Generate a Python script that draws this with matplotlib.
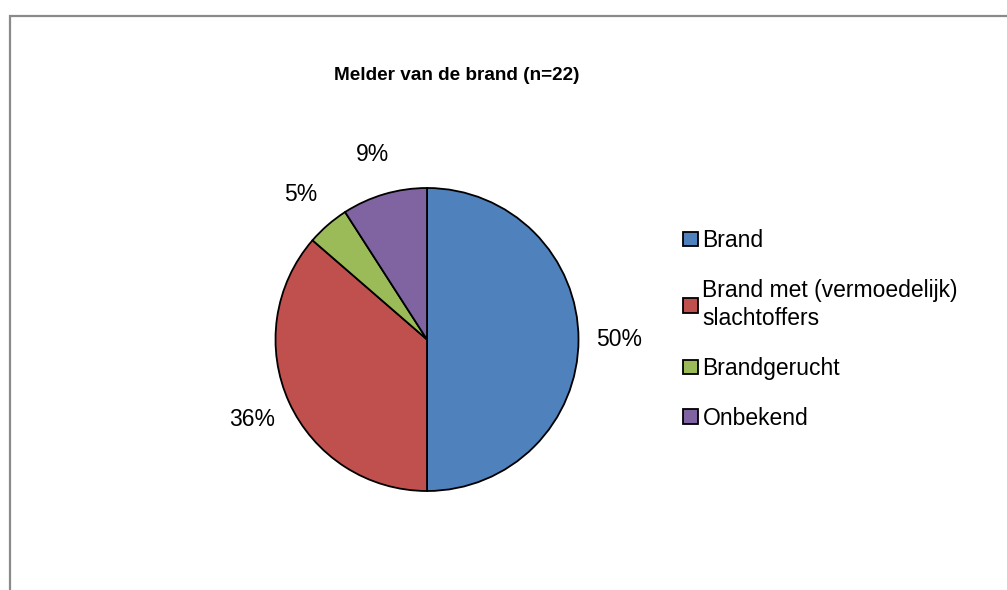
"""Taartdiagram: melder van de brand (n=22)."""

import matplotlib

matplotlib.use("Agg")
import matplotlib.pyplot as plt
from matplotlib.patches import Rectangle

plt.rcParams["font.family"] = ["Liberation Sans", "DejaVu Sans"]

TITLE = "Melder van de brand (n=22)"
CATEGORIES = [
    "Brand",
    "Brand met (vermoedelijk)\nslachtoffers",
    "Brandgerucht",
    "Onbekend",
]
COUNTS = [11, 8, 1, 2]
COLORS = ["#4F81BD", "#C0504D", "#9BBB59", "#8064A2"]

FIG_W_PX, FIG_H_PX = 1007, 590
DPI = 100

fig = plt.figure(figsize=(FIG_W_PX / DPI, FIG_H_PX / DPI), dpi=DPI)

# grijze kaderlijn (valt rechts en onder buiten beeld)
fig.patches.append(
    Rectangle(
        (9.5 / FIG_W_PX, -0.2),
        1.5,
        1.2 - 15.5 / FIG_H_PX,
        transform=fig.transFigure,
        fill=False,
        edgecolor="#8a8a8a",
        linewidth=1.6,
    )
)

# pie-as: middelpunt (427, 339.5) px, straal 151.5 px
radius_px = 151.5
ax = fig.add_axes(
    [
        (427 - radius_px) / FIG_W_PX,
        (FIG_H_PX - 339.5 - radius_px) / FIG_H_PX,
        2 * radius_px / FIG_W_PX,
        2 * radius_px / FIG_H_PX,
    ]
)
wedges, _, autotexts = ax.pie(
    COUNTS,
    colors=COLORS,
    startangle=90,
    counterclock=False,
    autopct="%.0f%%",
    pctdistance=1.27,
    radius=1.0,
    wedgeprops={"edgecolor": "black", "linewidth": 1.3},
    textprops={"fontsize": 16.5, "color": "black"},
)
ax.set_xlim(-1, 1)
ax.set_ylim(-1, 1)
ax.set_aspect("equal")
ax.axis("off")
for text in autotexts:
    text.set_clip_on(False)

fig.text(
    457 / FIG_W_PX,
    1 - 76 / FIG_H_PX,
    TITLE,
    ha="center",
    va="center",
    fontsize=13.7,
    fontweight="bold",
)

leg = fig.legend(
    wedges,
    CATEGORIES,
    loc="upper left",
    bbox_to_anchor=(683 / FIG_W_PX, 1 - 229 / FIG_H_PX),
    frameon=False,
    fontsize=16.5,
    borderpad=0,
    borderaxespad=0,
    handlelength=0.65,
    handleheight=0.6,
    handletextpad=0.2,
    labelspacing=1.17,
)
for handle in leg.legend_handles:
    handle.set_edgecolor("black")
    handle.set_linewidth(1.3)
for text in leg.get_texts():
    text.set_linespacing(1.3)

fig.savefig("out.png", dpi=DPI)
